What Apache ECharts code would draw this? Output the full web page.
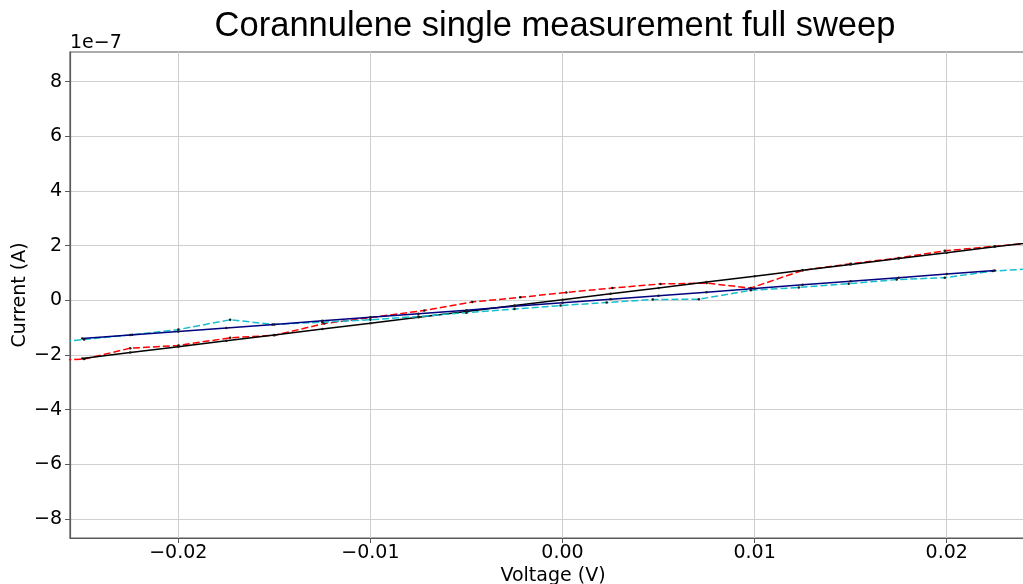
<!DOCTYPE html>
<html>
<head>
<meta charset="utf-8">
<script src="https://cdn.jsdelivr.net/npm/echarts@6/dist/echarts.min.js"></script>
<style>
  html, body { margin: 0; padding: 0; background: #ffffff; }
  #chart { width: 1023px; height: 584px; }
</style>
</head>
<body>
<div id="chart"></div>
<script>
// Current values are in units of 1e-7 A (shown by the offset label above the y axis).

// Forward sweep (red dashed)
const forwardVoltage = [-0.0275, -0.0249, -0.0225, -0.0200, -0.0173, -0.0150, -0.0124, -0.0100, -0.0072, -0.0047, -0.0022,
                        0.0002, 0.0026, 0.0051, 0.0075, 0.0098, 0.0125, 0.0150, 0.0175, 0.0199, 0.0225, 0.0250];
const forwardCurrent = [-2.22, -2.15, -1.75, -1.65, -1.37, -1.28, -0.85, -0.63, -0.37, -0.06, 0.11,
                        0.29, 0.45, 0.60, 0.63, 0.45, 1.10, 1.34, 1.55, 1.81, 1.98, 2.13];

// Reverse sweep (cyan dashed)
const reverseVoltage = [-0.0275, -0.0249, -0.0224, -0.0200, -0.0173, -0.0151, -0.0125, -0.0100, -0.0075, -0.0050, -0.0025,
                        -0.0001, 0.0023, 0.0047, 0.0071, 0.0098, 0.0123, 0.0149, 0.0174, 0.0199, 0.0224, 0.0250];
const reverseCurrent = [-1.63, -1.43, -1.26, -1.07, -0.71, -0.88, -0.80, -0.71, -0.59, -0.45, -0.32,
                        -0.19, -0.08, 0.03, 0.04, 0.37, 0.47, 0.61, 0.76, 0.83, 1.07, 1.18];

// Linear fit through the forward sweep (black)
const forwardFitVoltage = [-0.0250, -0.0225, -0.0200, -0.0175, -0.0150, -0.0125, -0.0100, -0.0075, -0.0050, -0.0025, 0.0000,
                           0.0025, 0.0050, 0.0075, 0.0100, 0.0125, 0.0150, 0.0175, 0.0200, 0.0225, 0.0250];
const forwardFitCurrent = [-2.13, -1.91, -1.70, -1.48, -1.27, -1.05, -0.84, -0.62, -0.41, -0.19, 0.02,
                           0.24, 0.45, 0.67, 0.88, 1.10, 1.31, 1.53, 1.74, 1.96, 2.17];

// Linear fit through the reverse sweep (navy)
const reverseFitVoltage = [-0.0250, -0.0225, -0.0200, -0.0175, -0.0150, -0.0125, -0.0100, -0.0075, -0.0050, -0.0025, 0.0000,
                           0.0025, 0.0050, 0.0075, 0.0100, 0.0125, 0.0150, 0.0175, 0.0200, 0.0225];
const reverseFitCurrent = [-1.40, -1.27, -1.14, -1.01, -0.88, -0.75, -0.62, -0.49, -0.36, -0.22, -0.09,
                           0.04, 0.17, 0.30, 0.43, 0.57, 0.70, 0.83, 0.96, 1.09];

// Axis ticks
const voltageTicks = [-0.02, -0.01, 0.00, 0.01, 0.02];
const currentTicks = [-8, -6, -4, -2, 0, 2, 4, 6, 8];

const zip = (xs, ys) => xs.map((x, i) => [x, ys[i]]);
const minusSign = s => s.replace('-', '\u2212');

const tickFont = { fontFamily: 'DejaVu Sans', fontSize: 19, color: '#000000' };
const gridGray = '#cfcfcf';
const spineGray = '#5a5a5a';

const chart = echarts.init(document.getElementById('chart'), null, { renderer: 'canvas' });

function lineSeries(name, data, color, dashed, z) {
  return {
    name: name,
    type: 'line',
    data: data,
    z: z,
    symbol: 'circle',
    symbolSize: 2.5,
    showSymbol: true,
    clip: true,
    animation: false,
    itemStyle: { color: '#1a1a1a', borderWidth: 0 },
    lineStyle: { color: color, width: 1.5, type: dashed ? [7, 3] : 'solid' },
    emphasis: { disabled: true }
  };
}

chart.setOption({
  backgroundColor: '#ffffff',
  animation: false,
  grid: {
    left: 70, top: 52, right: -13, bottom: 46,
    containLabel: false,
    outerBoundsMode: 'none',
    show: true, borderColor: spineGray, borderWidth: 1.2, backgroundColor: 'transparent'
  },
  graphic: [
    {
      type: 'text', x: 555, y: 26,
      style: {
        text: 'Corannulene single measurement full sweep',
        fontFamily: 'Liberation Sans', fontSize: 34.5, fill: '#000000',
        align: 'center', verticalAlign: 'middle'
      }
    },
    {
      type: 'text', x: 70, y: 43,
      style: {
        text: '1e\u22127', fontFamily: 'DejaVu Sans', fontSize: 19, fill: '#000000',
        align: 'left', verticalAlign: 'middle'
      }
    }
  ],
  xAxis: {
    type: 'value',
    min: -0.025638,
    max: 0.024649,
    name: 'Voltage (V)',
    nameLocation: 'middle',
    nameGap: 29,
    nameMoveOverlap: false,
    nameTextStyle: { fontFamily: 'DejaVu Sans', fontSize: 19, color: '#000000' },
    axisLine: { show: true, onZero: false, lineStyle: { color: spineGray, width: 1.2 } },
    axisTick: { show: true, length: 5, inside: false, customValues: voltageTicks, lineStyle: { color: spineGray, width: 1 } },
    axisLabel: Object.assign({ margin: 6, customValues: voltageTicks, formatter: v => minusSign(v.toFixed(2)) }, tickFont),
    splitLine: { show: true, lineStyle: { color: gridGray, width: 1 } }
  },
  yAxis: {
    type: 'value',
    min: -8.695,
    max: 9.086,
    name: 'Current (A)',
    nameLocation: 'middle',
    nameRotate: 90,
    nameGap: 40,
    nameMoveOverlap: false,
    nameTextStyle: { fontFamily: 'DejaVu Sans', fontSize: 19, color: '#000000' },
    axisLine: { show: true, onZero: false, lineStyle: { color: spineGray, width: 1.2 } },
    axisTick: { show: true, length: 5, inside: false, customValues: currentTicks, lineStyle: { color: spineGray, width: 1 } },
    axisLabel: Object.assign({ margin: 8, customValues: currentTicks, formatter: v => minusSign(String(v)) }, tickFont),
    splitLine: { show: true, lineStyle: { color: gridGray, width: 1 } }
  },
  series: [
    lineSeries('Forward sweep', zip(forwardVoltage, forwardCurrent), '#ff0000', true, 2),
    lineSeries('Forward fit', zip(forwardFitVoltage, forwardFitCurrent), '#000000', false, 3),
    lineSeries('Reverse sweep', zip(reverseVoltage, reverseCurrent), '#17becf', true, 4),
    lineSeries('Reverse fit', zip(reverseFitVoltage, reverseFitCurrent), '#000080', false, 5)
  ]
});
</script>
</body>
</html>
